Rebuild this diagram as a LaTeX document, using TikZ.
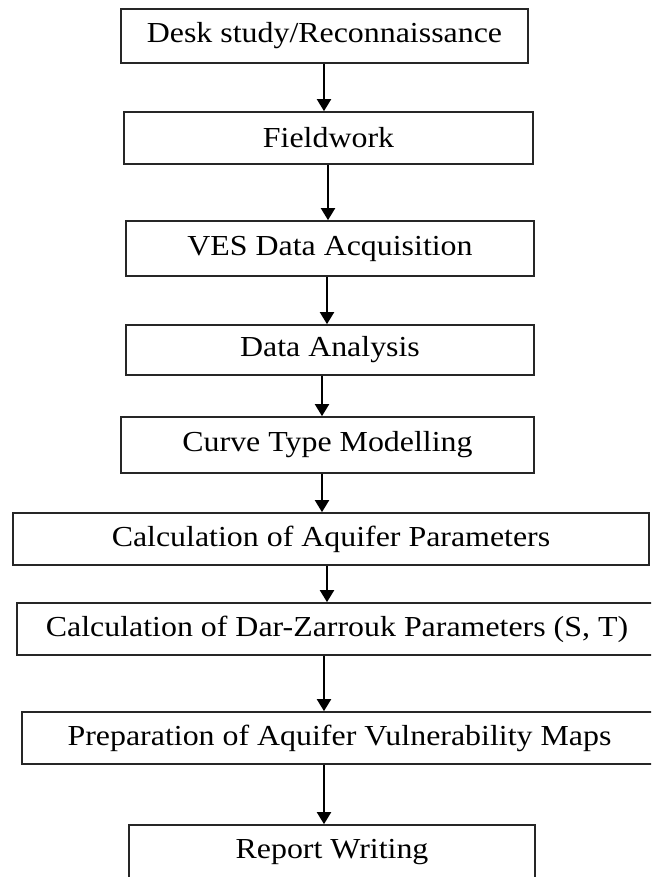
\documentclass[tikz,border=0pt]{standalone}
\usepackage{fontspec}
\setmainfont{Liberation Serif}[FakeStretch=1.1]
\usetikzlibrary{arrows.meta}
\tikzset{
  box/.style={draw=black!85, line width=1.7pt, inner sep=0pt, fill=white,
    font=\fontsize{29}{34}\selectfont, text=black},
  arr/.style={draw=black, line width=2pt, -{Triangle[width=14pt,length=12pt]}}
}
\begin{document}
\begin{tikzpicture}[x=1pt,y=-1pt]
\clip (0,0) rectangle (651,877);
\fill[white] (0,0) rectangle (651,877);
\node[box, minimum width=407pt, minimum height=54pt] (b1) at (324.5,36) {Desk study/Reconnaissance};
\node[box, minimum width=409pt, minimum height=52pt] (b2) at (328.5,138) {Fieldwork};
\node[box, minimum width=408pt, minimum height=55pt] (b3) at (330,248.5) {VES Data Acquisition};
\node[box, minimum width=408pt, minimum height=50pt] (b4) at (330,350) {Data Analysis};
\node[box, minimum width=413pt, minimum height=56pt] (b5) at (327.5,445) {Curve Type Modelling};
\node[box, minimum width=636pt, minimum height=52pt] (b6) at (331,539) {Calculation of Aquifer Parameters};
\node[box, minimum width=640pt, minimum height=52pt] (b7) at (337,629) {Calculation of Dar-Zarrouk Parameters (S, T)};
\node[box, minimum width=635pt, minimum height=52pt] (b8) at (339.5,738) {Preparation of Aquifer Vulnerability Maps};
\node[box, minimum width=406pt, minimum height=55pt] (b9) at (332,852.5) {Report Writing};
\draw[arr] (b1.south -| 324,0) -- (b2.north -| 324,0);
\draw[arr] (b2.south -| 328,0) -- (b3.north -| 328,0);
\draw[arr] (b3.south -| 327,0) -- (b4.north -| 327,0);
\draw[arr] (b4.south -| 322,0) -- (b5.north -| 322,0);
\draw[arr] (b5.south -| 322,0) -- (b6.north -| 322,0);
\draw[arr] (b6.south -| 327,0) -- (b7.north -| 327,0);
\draw[arr] (b7.south -| 324,0) -- (b8.north -| 324,0);
\draw[arr] (b8.south -| 324,0) -- (b9.north -| 324,0);
\end{tikzpicture}
\end{document}
